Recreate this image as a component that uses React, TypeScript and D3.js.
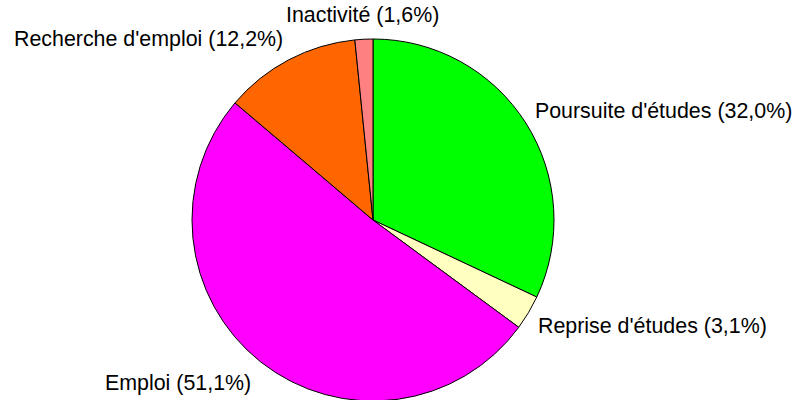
import React from 'react';
import * as d3 from 'd3';

// categories and shares (%), clockwise from 12 o'clock
const categories = ["Poursuite d'études", "Reprise d'études", 'Emploi', "Recherche d'emploi", 'Inactivité'];
const shares = [32.0, 3.1, 51.1, 12.2, 1.6];
const sliceColors = ['#00FF00', '#FFFFC0', '#FF00FF', '#FF6600', '#FF8080'];

const W = 798;
const H = 400;
const cx = 373;
const cy = 220;
const radius = 181;
const labelRadius = 206;

const fmt = (v: number) => v.toFixed(1).replace('.', ',');

export default function App() {
  const rows = categories.map((c, i) => ({ name: c, value: shares[i], color: sliceColors[i] }));

  const pie = d3.pie<any>().value(d => d.value).sort(null);
  const arc = d3.arc<any>().innerRadius(0).outerRadius(radius);
  const arcs = pie(rows);

  return (
    <svg width={W} height={H} style={{ position: 'absolute', left: 0, top: 0 }}>
      <rect width={W} height={H} fill="#fff" />
      <g transform={`translate(${cx},${cy})`}>
        {arcs.map((a, i) => (
          <path key={i} d={arc(a) as string} fill={a.data.color} stroke="#000" strokeWidth={1} />
        ))}
        {arcs.map((a, i) => {
          const mid = (a.startAngle + a.endAngle) / 2;
          const s = Math.sin(mid);
          const x = labelRadius * s;
          const y = -labelRadius * Math.cos(mid);
          const anchor = s > 0.1 ? 'start' : s < -0.1 ? 'end' : 'middle';
          const dx = anchor === 'start' ? -12 : anchor === 'end' ? 6 : 0;
          return (
            <text key={'l' + i} x={x + dx} y={y + 1} textAnchor={anchor} dominantBaseline="central"
              fontFamily="Liberation Sans, Arial, sans-serif" fontSize={21.4} fill="#000">
              {`${a.data.name} (${fmt(a.data.value)}%)`}
            </text>
          );
        })}
      </g>
    </svg>
  );
}
